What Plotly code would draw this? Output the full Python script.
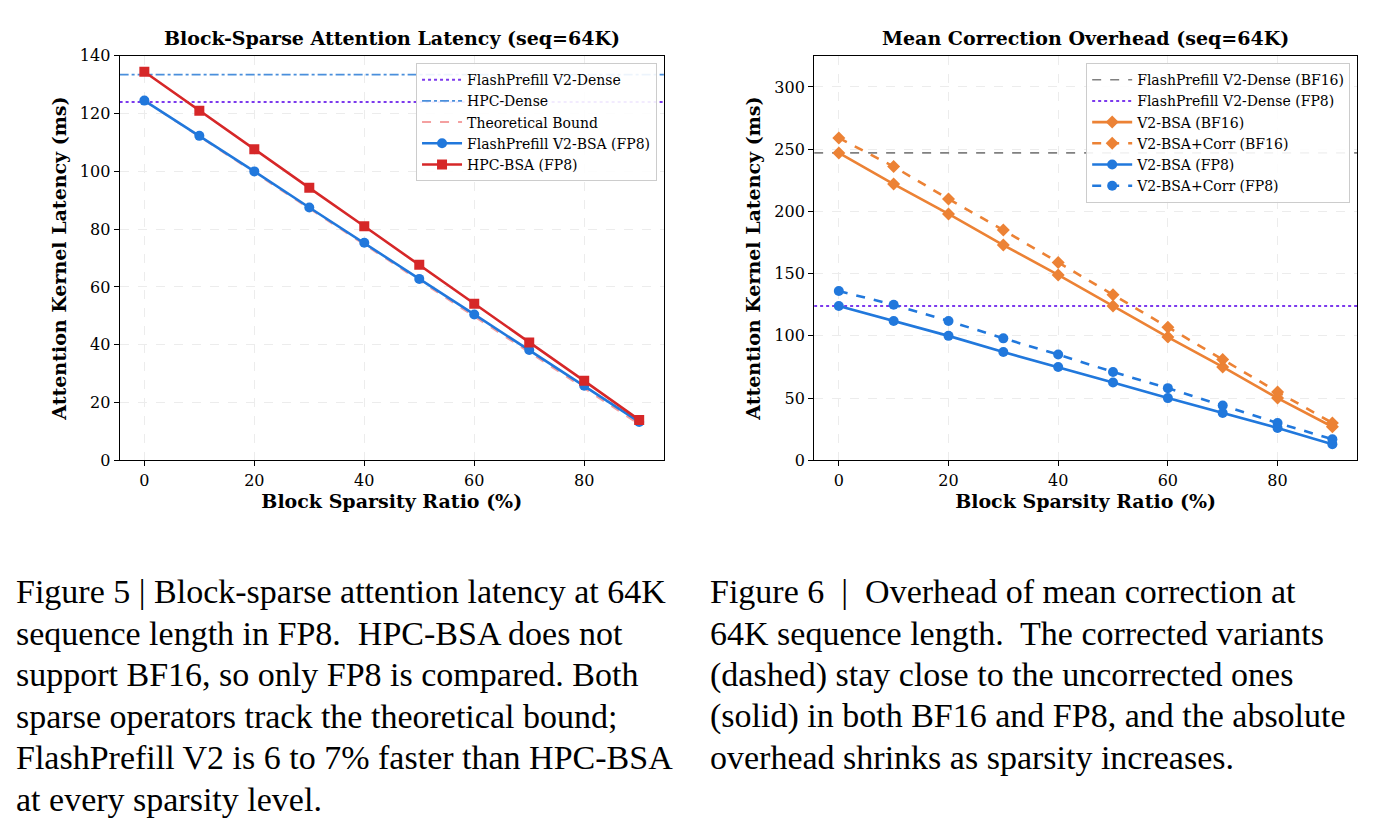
import plotly.graph_objects as go

sparsity = [0, 10, 20, 30, 40, 50, 60, 70, 80, 90]

# Figure 5 data
fp_v2_bsa_fp8 = [124.5, 112.3, 100.0, 87.5, 75.3, 62.8, 50.5, 38.2, 25.8, 13.3]
hpc_bsa_fp8 = [134.5, 121.0, 107.7, 94.3, 81.0, 67.7, 54.2, 40.8, 27.5, 14.0]
theory_bound = [124.5, 112.0, 99.6, 87.2, 74.7, 62.3, 49.8, 37.4, 24.9, 12.5]
fp_v2_dense = 124.0
hpc_dense = 133.5

# Figure 6 data
v2_bsa_bf16 = [247, 222, 198, 173, 149, 124, 99, 75, 50, 27]
v2_corr_bf16 = [259, 236, 210, 185, 159, 133, 107, 81, 55, 30]
v2_bsa_fp8 = [124, 112, 100, 87, 75, 62.5, 50, 38, 26, 13]
v2_corr_fp8 = [136, 125, 112, 98, 85, 71, 58, 44, 30, 17]
dense_bf16 = 247
dense_fp8 = 124

BLUE = "#2178dc"
RED = "#d62728"
ORANGE = "#ec8235"
PURPLE = "#7c3aed"
FONT = "DejaVu Serif"

fig = go.Figure()

def add(x, y, name, color, dash="solid", marker=None, xa="x", ya="y", legend="legend", width=2.6):
    fig.add_trace(go.Scatter(
        x=x, y=y, name=name, xaxis=xa, yaxis=ya, legend=legend,
        mode="lines+markers" if marker else "lines",
        line=dict(color=color, dash=dash, width=width),
        marker=dict(symbol=marker, size=10, color=color) if marker else None,
    ))

xspan = [-4.5, 94.5]
# left panel
add(xspan, [fp_v2_dense] * 2, "FlashPrefill V2-Dense", PURPLE, "dot", width=2)
add(xspan, [hpc_dense] * 2, "HPC-Dense", "#4a8fdc", "dashdot", width=1.6)
add(sparsity, theory_bound, "Theoretical Bound", "#f4a0a0", "dash", width=2)
add(sparsity, fp_v2_bsa_fp8, "FlashPrefill V2-BSA (FP8)", BLUE, marker="circle")
add(sparsity, hpc_bsa_fp8, "HPC-BSA (FP8)", RED, marker="square")

# right panel
add(xspan, [dense_bf16] * 2, "FlashPrefill V2-Dense (BF16)", "#808080", "dash", xa="x2", ya="y2", legend="legend2", width=1.6)
add(xspan, [dense_fp8] * 2, "FlashPrefill V2-Dense (FP8)", PURPLE, "dot", xa="x2", ya="y2", legend="legend2", width=2)
add(sparsity, v2_bsa_bf16, "V2-BSA (BF16)", ORANGE, marker="diamond", xa="x2", ya="y2", legend="legend2")
add(sparsity, v2_corr_bf16, "V2-BSA+Corr (BF16)", ORANGE, "dash", marker="diamond", xa="x2", ya="y2", legend="legend2")
add(sparsity, v2_bsa_fp8, "V2-BSA (FP8)", BLUE, marker="circle", xa="x2", ya="y2", legend="legend2")
add(sparsity, v2_corr_fp8, "V2-BSA+Corr (FP8)", BLUE, "dash", marker="circle", xa="x2", ya="y2", legend="legend2")

axis_common = dict(showline=True, linecolor="black", linewidth=1.2, mirror=True,
                   ticks="outside", ticklen=5, tickcolor="black",
                   showgrid=True, gridcolor="#ececec", griddash="dash", zeroline=False,
                   tickfont=dict(family=FONT, size=16, color="black"))
xt = dict(text="<b>Block Sparsity Ratio (%)</b>", font=dict(family=FONT, size=19, color="black"), standoff=6)
yt = dict(text="<b>Attention Kernel Latency (ms)</b>", font=dict(family=FONT, size=19, color="black"), standoff=8)

legend_common = dict(bgcolor="rgba(255,255,255,0.9)", bordercolor="#cccccc", borderwidth=1,
                     font=dict(family=FONT, size=14, color="black"), xanchor="right", yanchor="top",
                     tracegroupgap=0, itemwidth=40)

YDOM = [0.452, 0.952]
fig.update_layout(
    width=1378, height=828, paper_bgcolor="white", plot_bgcolor="white",
    margin=dict(l=0, r=0, t=0, b=0), showlegend=True,
    xaxis=dict(domain=[0.081, 0.476], range=xspan, tickvals=[0, 20, 40, 60, 80], title=xt, anchor="y", **axis_common),
    yaxis=dict(domain=YDOM, range=[0, 140], dtick=20, title=yt, anchor="x", **axis_common),
    xaxis2=dict(domain=[0.585, 0.979], range=xspan, tickvals=[0, 20, 40, 60, 80], title=xt, anchor="y2", **axis_common),
    yaxis2=dict(domain=YDOM, range=[0, 325], dtick=50, title=yt, anchor="x2", **axis_common),
    legend=dict(x=0.471, y=0.943, **legend_common),
    legend2=dict(x=0.974, y=0.943, **legend_common),
)

title_font = dict(family=FONT, size=19, color="black")
fig.add_annotation(text="<b>Block-Sparse Attention Latency (seq=64K)</b>", x=0.2785, y=0.958,
                   xref="paper", yref="paper", xanchor="center", yanchor="bottom", showarrow=False, font=title_font)
fig.add_annotation(text="<b>Mean Correction Overhead (seq=64K)</b>", x=0.782, y=0.958,
                   xref="paper", yref="paper", xanchor="center", yanchor="bottom", showarrow=False, font=title_font)

cap_font = dict(family="Liberation Serif", size=34, color="black")
cap5 = ["Figure 5 | Block-sparse attention latency at 64K",
        "sequence length in FP8.  HPC-BSA does not",
        "support BF16, so only FP8 is compared. Both",
        "sparse operators track the theoretical bound;",
        "FlashPrefill V2 is 6 to 7% faster than HPC-BSA",
        "at every sparsity level."]
cap6 = ["Figure 6  |  Overhead of mean correction at",
        "64K sequence length.  The corrected variants",
        "(dashed) stay close to the uncorrected ones",
        "(solid) in both BF16 and FP8, and the absolute",
        "overhead shrinks as sparsity increases."]
for i, line in enumerate(cap5):
    fig.add_annotation(text=line, x=6 / 1378, y=1 - (588 + 42.5 * i) / 828, xref="paper", yref="paper",
                       xanchor="left", yanchor="middle", showarrow=False, font=cap_font)
for i, line in enumerate(cap6):
    fig.add_annotation(text=line, x=700 / 1378, y=1 - (588 + 42.5 * i) / 828, xref="paper", yref="paper",
                       xanchor="left", yanchor="middle", showarrow=False, font=cap_font)

fig.write_html("out.html")
